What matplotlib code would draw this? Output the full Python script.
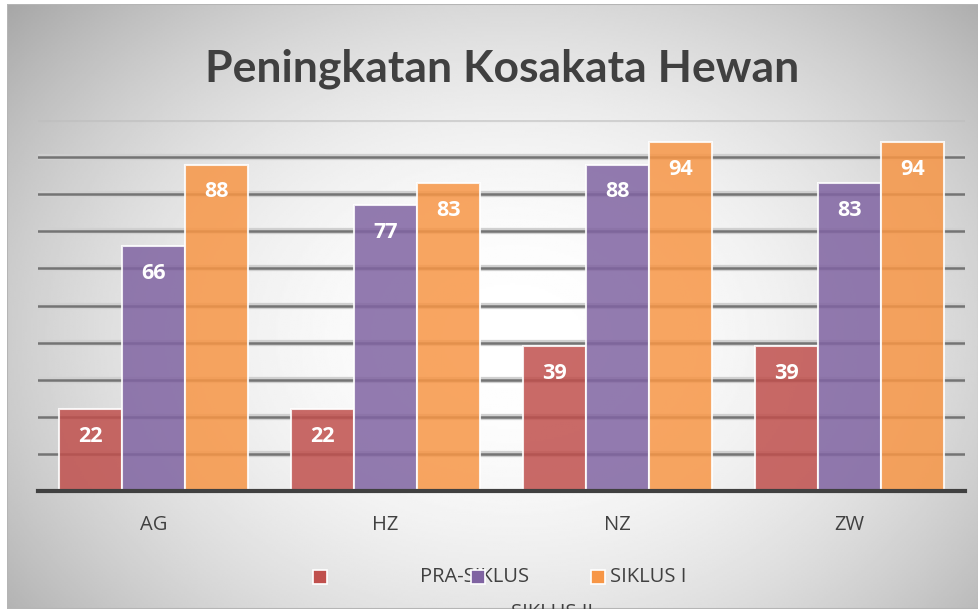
import numpy as np
import matplotlib
matplotlib.use('Agg')
import matplotlib.pyplot as plt
from matplotlib.patches import Rectangle

categories = ['AG', 'HZ', 'NZ', 'ZW']
pra_siklus = [22, 22, 39, 39]
siklus_1 = [66, 77, 88, 83]
siklus_2 = [88, 83, 94, 94]
series_names = ['PRA-SIKLUS', 'SIKLUS I', 'SIKLUS II']
colors = ['#c0504d', '#8064a2', '#f79646']

plt.rcParams['font.family'] = ['Open Sans', 'DejaVu Sans']

W, H = 979, 609
fig = plt.figure(figsize=(W / 100, H / 100), dpi=100)
fig.patch.set_facecolor('white')

# background: radial grey gradient
bg = fig.add_axes([7 / W, 0, 1 - 7 / W, 1 - 4 / H])
bg.set_axis_off()
yy, xx = np.mgrid[0:1:300j, 0:1:500j]
r = np.sqrt(((xx - 0.52) / 0.62) ** 2 + ((yy - 0.55) / 0.75) ** 2)
grad = 1 - 0.28 * np.clip(r, 0, 1.2) ** 2
bg.imshow(grad, cmap='gray', vmin=0, vmax=1, aspect='auto', extent=[0, 1, 0, 1])
bg.add_patch(Rectangle((0, 0), 1, 1, transform=bg.transAxes, fill=False,
                       edgecolor='#b5b5b5', lw=1.5))

ax = fig.add_axes([38 / W, 118 / H, (965 - 38) / W, (491 - 120) / H])
ax.patch.set_alpha(0)
ax.set_xlim(-0.5, 3.5)
ax.set_ylim(0, 100)

x = np.arange(len(categories))
w = 0.272

# gridlines with soft shadow
for g in range(10, 101, 10):
    if g == 100:
        ax.axhline(g, color='#bdbdbd', lw=3, zorder=1, alpha=0.6)
        continue
    ax.axhline(g, color='#d0d0d0', lw=4.5, zorder=1)
    ax.axhline(g, color='#6a6a6a', lw=1.8, zorder=1, alpha=0.9)

for i, (vals, c) in enumerate(zip([pra_siklus, siklus_1, siklus_2], colors)):
    bars = ax.bar(x + (i - 1) * w, vals, w, color=c, alpha=0.85,
                  edgecolor='white', linewidth=1.5, zorder=2)
    for b, v in zip(bars, vals):
        ax.annotate(str(v), (b.get_x() + b.get_width() / 2, v),
                    xytext=(0, -19.5), textcoords='offset points',
                    ha='center', va='center', color='white',
                    fontsize=15.5, fontweight='bold', zorder=3)

ax.axhline(0, color='#404040', lw=3, zorder=4, clip_on=False)

for s in ax.spines.values():
    s.set_visible(False)
ax.set_yticks([])
ax.set_xticks(x)
ax.set_xticklabels(categories, fontsize=14.5, color='#404040')
ax.tick_params(axis='x', length=0, pad=17)

fig.text(502 / W, 1 - 69 / H, 'Peningkatan Kosakata Hewan', ha='center', va='center',
         fontsize=32, fontweight='bold', color='#404040', family=['Lato', 'DejaVu Sans'])

# legend (laid out as in the original, overlapping)
ly = 1 - 577 / H
for xc, c in zip([320, 478, 598], colors):
    fig.patches.append(Rectangle(((xc - 7) / W, ly - 7 / H), 14 / W, 14 / H,
                                 transform=fig.transFigure, facecolor=c,
                                 edgecolor='white', lw=1.2, zorder=5))
fig.text(420 / W, ly, series_names[0], ha='left', va='center', fontsize=14.5,
         color='#404040', zorder=4)
fig.text(610 / W, ly, series_names[1], ha='left', va='center', fontsize=14.5,
         color='#404040', zorder=4)
fig.text(552 / W, 1 - 613 / H, series_names[2], ha='center', va='center', fontsize=14.5,
         color='#404040', zorder=4)

fig.savefig('out.png', dpi=100)
